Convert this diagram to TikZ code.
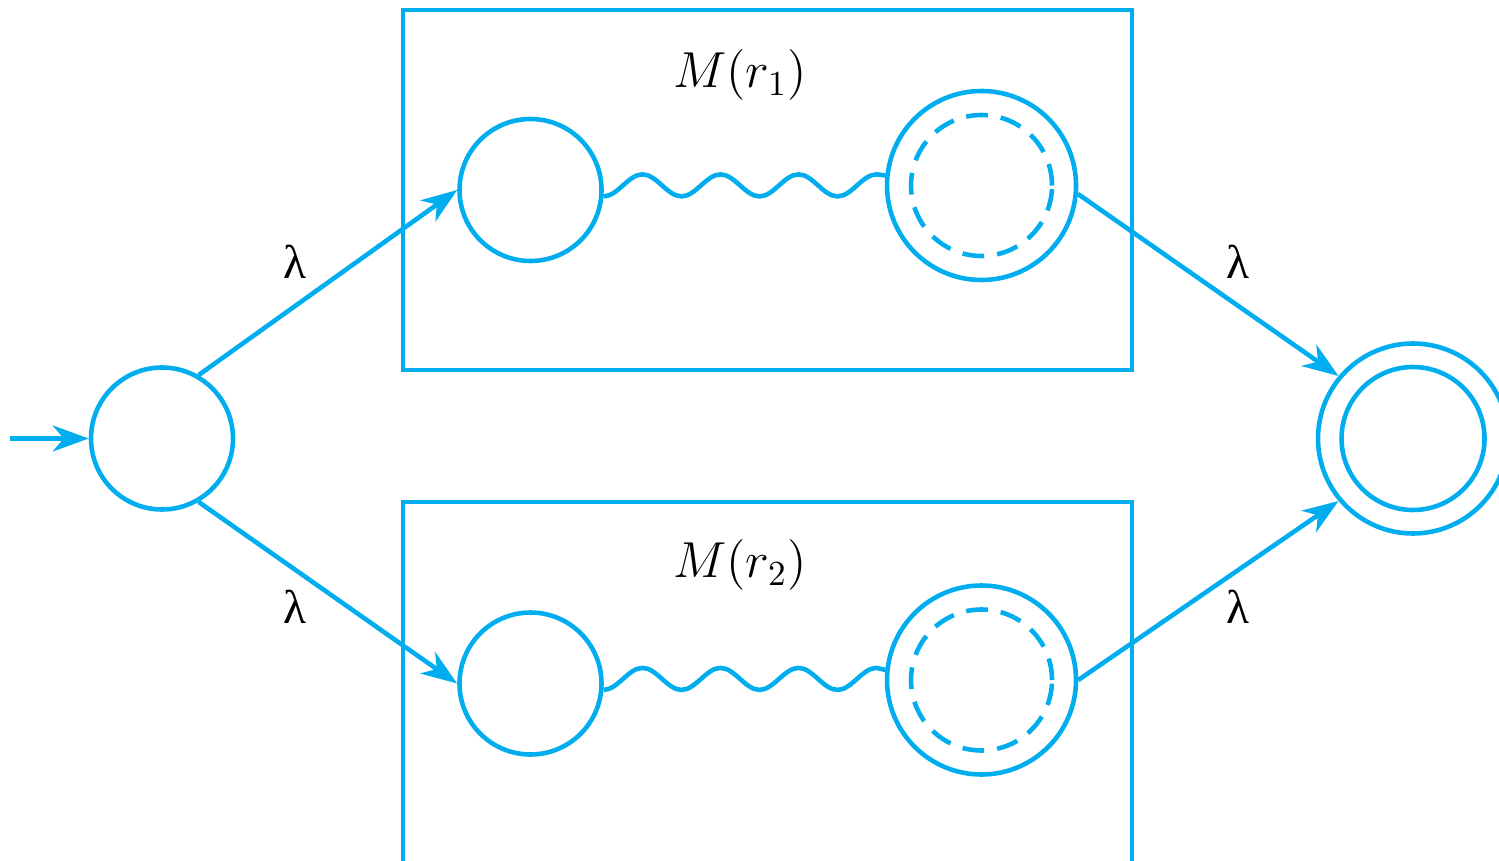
\documentclass[tikz,border=0pt]{standalone}
\usepackage{fontspec}
\setmainfont{Liberation Serif}
\usetikzlibrary{arrows.meta}
\definecolor{nfablue}{RGB}{0,173,238}

\begin{document}
\begin{tikzpicture}[
    >={Stealth[length=3.6mm, width=2.6mm, inset=1.1mm]},
    line width=1.3pt,
    state/.style={circle, draw=nfablue, minimum size=1.42cm, inner sep=0pt},
    trans/.style={->, nfablue},
    wire/.style={nfablue},
    box/.style={draw=nfablue},
    lbl/.style={font=\fontsize{13.5}{15}\selectfont},
    mlabel/.style={font=\fontsize{14.5}{16}\selectfont},
]
\useasboundingbox (0,0) rectangle (14.99,8.60);

% === Machine boxes ===
\draw[box] (4.03,4.90) rectangle (11.32,8.50);
\draw[box] (4.03,-0.2) -- (4.03,3.58) -- (11.32,3.58) -- (11.32,-0.2);
\node[mlabel] (m1) at (7.40,7.85) {$M(r_1)$};
\node[mlabel] (m2) at (7.40,2.95) {$M(r_2)$};

% === States ===
\node[state] (start) at (1.62,4.215) {};
\coordinate (entry) at (0.10,4.215);
% first machine
\node[state] (a1) at (5.305,6.70) {};
\node[state, minimum size=1.89cm] (b1) at (9.815,6.745) {};
\node[state, dashed, dash pattern=on 6.2pt off 3.7pt, minimum size=1.41cm] (b1in) at (b1) {};
% second machine
\node[state] (a2) at (5.305,1.765) {};
\node[state, minimum size=1.89cm] (b2) at (9.815,1.80) {};
\node[state, dashed, dash pattern=on 6.2pt off 3.7pt, minimum size=1.41cm] (b2in) at (b2) {};
% accepting state
\node[state, minimum size=1.90cm] (final) at (14.13,4.215) {};
\node[state, minimum size=1.43cm] (finalin) at (final) {};

% === Wavy paths inside the machines ===
\draw[wire] (a1.-5) foreach \k in {1,2,3} {
    cos ++(0.195,0.11) sin ++(0.195,0.11) cos ++(0.195,-0.11) sin ++(0.195,-0.11)
  } cos ++(0.195,0.11) sin ++(0.195,0.11) -- (b1.174);
\draw[wire] (a2.-5) foreach \k in {1,2,3} {
    cos ++(0.195,0.11) sin ++(0.195,0.11) cos ++(0.195,-0.11) sin ++(0.195,-0.11)
  } cos ++(0.195,0.11) sin ++(0.195,0.11) -- (b2.174);

% === Transitions ===
\draw[trans] (entry) -- (start.west);
\draw[trans] (start.60) -- (a1.west);
\draw[trans] (start.-60) -- (a2.west);
\draw[trans] (b1.-5) -- (final.140);
\draw[trans] (b2.east) -- (final.220);

% lambda labels
\node[lbl] (lam1) at (2.95,5.98) {λ};
\node[lbl] (lam2) at (2.95,2.53) {λ};
\node[lbl] (lam3) at (12.38,5.98) {λ};
\node[lbl] (lam4) at (12.38,2.53) {λ};

\end{tikzpicture}
\end{document}
